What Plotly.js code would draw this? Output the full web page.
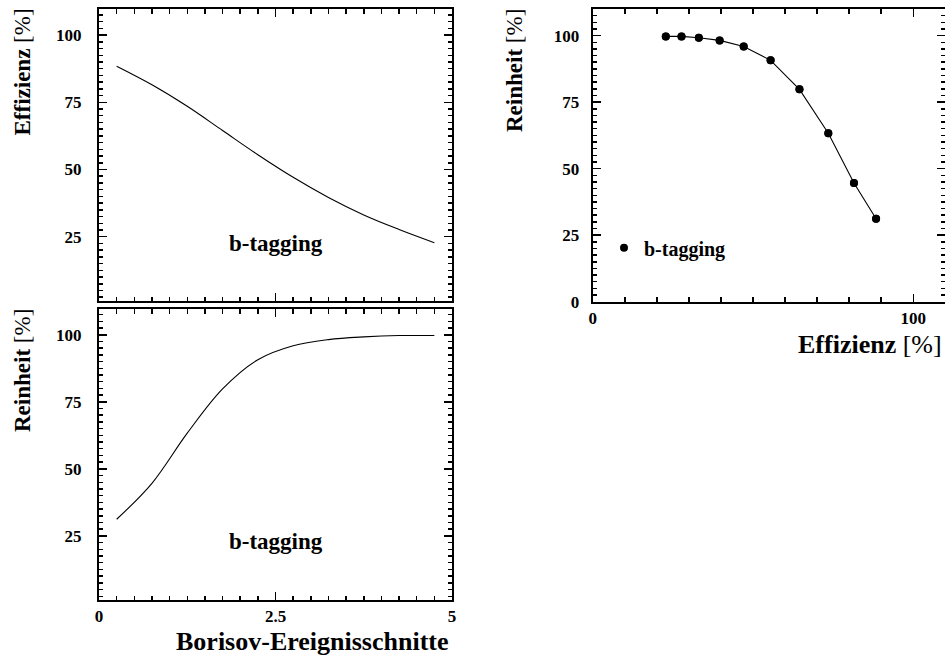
<!DOCTYPE html>
<html>
<head>
<meta charset="utf-8">
<script src="https://cdn.plot.ly/plotly-3.0.1.min.js"></script>
<style>
  html, body { margin: 0; padding: 0; background: #fff; }
  #chart { width: 945px; height: 657px; }
</style>
</head>
<body>
<div id="chart"></div>
<script>
// ---- data ----
const cuts = [0.25, 0.75, 1.25, 1.75, 2.25, 2.75, 3.25, 3.75, 4.25, 4.75];
const efficiency = [88.4, 81.5, 73.5, 64.5, 55.5, 47.1, 39.6, 33.1, 27.7, 22.8];
const purity = [31.2, 44.6, 63.3, 79.8, 90.7, 95.9, 98.2, 99.2, 99.7, 99.7];
const seriesName = "b-tagging";
const xTitleLeft = "Borisov-Ereignisschnitte";
const yTitleEff = "Effizienz";
const yTitlePur = "Reinheit";
const unit = "[%]";

// ---- styling ----
const W = 945, H = 657;
const FAM = "Liberation Serif";
const px = v => v / W;
const py = v => 1 - v / H;

const tickFont = { family: FAM, size: 17, color: "#000", weight: "bold" };

function axisBase(extra) {
  return Object.assign({
    showline: true, linecolor: "#000", linewidth: 2, mirror: "allticks",
    ticks: "inside", ticklen: 8, tickwidth: 1.5, tickcolor: "#000",
    showgrid: false, zeroline: false, tickfont: tickFont,
    fixedrange: true
  }, extra);
}

const lineStyle = { color: "#000", width: 1.1, shape: "spline", smoothing: 1 };

const traces = [
  { x: cuts, y: efficiency, xaxis: "x", yaxis: "y", mode: "lines",
    line: lineStyle, showlegend: false, hoverinfo: "skip" },
  { x: cuts, y: purity, xaxis: "x2", yaxis: "y2", mode: "lines",
    line: lineStyle, showlegend: false, hoverinfo: "skip" },
  { x: efficiency, y: purity, xaxis: "x3", yaxis: "y3", mode: "lines+markers",
    line: { color: "#000", width: 1.1 }, marker: { color: "#000", size: 8 },
    showlegend: false, hoverinfo: "skip" },
  { x: efficiency, y: purity, xaxis: "x3", yaxis: "y3", mode: "markers",
    marker: { color: "#000", size: 8 }, name: seriesName,
    showlegend: true, hoverinfo: "skip" }
];

const layout = {
  width: W, height: H,
  margin: { l: 0, r: 0, t: 0, b: 0 },
  paper_bgcolor: "#fff", plot_bgcolor: "#fff",
  font: { family: FAM, color: "#000" },
  showlegend: true,
  legend: {
    x: px(604), y: py(247.7), xanchor: "left", yanchor: "middle",
    bgcolor: "rgba(0,0,0,0)", borderwidth: 0,
    font: { family: FAM, size: 20, color: "#000", weight: "bold" }
  },
  xaxis: axisBase({ domain: [px(99), px(452)], range: [0, 5], anchor: "y",
    dtick: 2.5, tick0: 0, showticklabels: false,
    minor: { dtick: 0.25, ticklen: 4.5, tickwidth: 1.5, tickcolor: "#000", ticks: "inside" } }),
  yaxis: axisBase({ domain: [py(301), py(9)], range: [1.1, 109.7], anchor: "x",
    dtick: 25, tick0: 0, ticklabelstandoff: 12,
    minor: { dtick: 2.5, ticklen: 4, tickwidth: 1.5, tickcolor: "#000", ticks: "inside" } }),
  xaxis2: axisBase({ domain: [px(99), px(452)], range: [0, 5], anchor: "y2",
    dtick: 2.5, tick0: 0,
    minor: { dtick: 0.25, ticklen: 4.5, tickwidth: 1.5, tickcolor: "#000", ticks: "inside" } }),
  yaxis2: axisBase({ domain: [py(600), py(309)], range: [1.1, 109.6], anchor: "x2",
    dtick: 25, tick0: 0, ticklabelstandoff: 12,
    minor: { dtick: 2.5, ticklen: 4, tickwidth: 1.5, tickcolor: "#000", ticks: "inside" } }),
  xaxis3: axisBase({ domain: [px(592.7), 1], range: [0, 109.9], anchor: "y3",
    dtick: 100, tick0: 0,
    minor: { dtick: 10, ticklen: 4.5, tickwidth: 1.5, tickcolor: "#000", ticks: "inside" } }),
  yaxis3: axisBase({ domain: [py(301.7), py(9)], range: [0, 110], anchor: "x3",
    dtick: 25, tick0: 0, ticklabelstandoff: 8,
    minor: { dtick: 2.5, ticklen: 4, tickwidth: 1.5, tickcolor: "#000", ticks: "inside" } }),
  annotations: [
    { text: "<b>" + yTitleEff + "</b> " + unit, xref: "paper", yref: "paper",
      x: px(22), y: py(72.5), xanchor: "center", yanchor: "middle", textangle: -90,
      showarrow: false, font: { family: FAM, size: 23, color: "#000" } },
    { text: "<b>" + yTitlePur + "</b> " + unit, xref: "paper", yref: "paper",
      x: px(22), y: py(371), xanchor: "center", yanchor: "middle", textangle: -90,
      showarrow: false, font: { family: FAM, size: 23, color: "#000" } },
    { text: "<b>" + yTitlePur + "</b> " + unit, xref: "paper", yref: "paper",
      x: px(515), y: py(71), xanchor: "center", yanchor: "middle", textangle: -90,
      showarrow: false, font: { family: FAM, size: 23, color: "#000" } },
    { text: "<b>" + xTitleLeft + "</b>", xref: "paper", yref: "paper",
      x: px(451), y: py(641), xanchor: "right", yanchor: "middle",
      showarrow: false, font: { family: FAM, size: 26, color: "#000" } },
    { text: "<b>" + yTitleEff + "</b> " + unit, xref: "paper", yref: "paper",
      x: px(944), y: py(344), xanchor: "right", yanchor: "middle",
      showarrow: false, font: { family: FAM, size: 26, color: "#000" } },
    { text: "<b>" + seriesName + "</b>", xref: "x", yref: "y",
      x: 2.5, y: 22.6, xanchor: "center", yanchor: "middle",
      showarrow: false, font: { family: FAM, size: 23, color: "#000" } },
    { text: "<b>" + seriesName + "</b>", xref: "x2", yref: "y2",
      x: 2.5, y: 22.8, xanchor: "center", yanchor: "middle",
      showarrow: false, font: { family: FAM, size: 23, color: "#000" } }
  ]
};

Plotly.newPlot("chart", traces, layout, { staticPlot: true, displayModeBar: false });
</script>
</body>
</html>
